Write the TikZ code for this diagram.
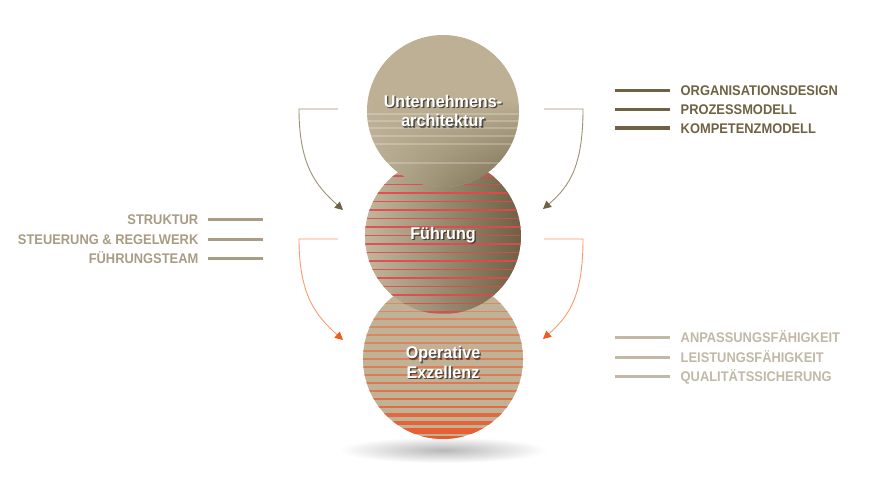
\documentclass[tikz,border=0pt]{standalone}
\usepackage{fontspec}
\setmainfont{Liberation Sans}
\newfontfamily\lblfont[FakeStretch=0.92]{Liberation Sans}
\newfontfamily\circfont[FakeStretch=0.95]{Liberation Sans}
\usetikzlibrary{arrows.meta,fadings}

\definecolor{circL}{HTML}{C2B69D}
\definecolor{circR}{HTML}{6C6144}
\definecolor{circTop}{HTML}{BDB095}
\definecolor{botFill}{HTML}{BEB297}
\definecolor{redS}{HTML}{E8464C}
\definecolor{orangeS}{HTML}{E85A2C}
\definecolor{peachS}{HTML}{DE9678}
\definecolor{labTop}{HTML}{6F6243}
\definecolor{labLeft}{HTML}{A89C83}
\definecolor{labBot}{HTML}{C1B8A6}
\definecolor{arrBrL}{HTML}{9C9075}
\definecolor{arrBrD}{HTML}{6E6245}
\definecolor{arrOrL}{HTML}{F79A72}
\definecolor{arrOrD}{HTML}{F05A1C}

\tikzfading[name=fadeupper, top color=transparent!100, bottom color=transparent!0]

\tikzset{
  ctext/.style={font=\circfont\bfseries\fontsize{17}{19.5}\selectfont, text=white, align=center, inner sep=0pt},
  cshadow/.style={ctext, text=black!85, opacity=0.55},
  lbl/.style={font=\lblfont\bfseries\fontsize{14}{16}\selectfont, inner sep=0pt, text height=10pt, text depth=0pt},
  lline/.style={line width=3pt},
  brarrow/.style={arrBrL, line width=0.9pt, -{Triangle[length=8pt,width=8pt,color=arrBrD]}},
  orarrow/.style={arrOrL, line width=0.9pt, -{Triangle[length=8pt,width=8pt,color=arrOrD]}},
}

\begin{document}
\begin{tikzpicture}[x=1pt,y=-1pt]
\useasboundingbox (0,0) rectangle (888,500);

% shadow under the stack
\shade[inner color=black!28, outer color=white] (443,450) ellipse [x radius=104pt, y radius=13pt];

% ---------- bottom circle ----------
\fill[botFill] (443,359) circle[radius=80pt];
\begin{scope}
  \clip (443,359) circle[radius=80pt];
  \foreach \k in {0,...,19} {
    \pgfmathsetmacro\yy{287+8*\k}
    \pgfmathsetmacro\lw{1+5*(\k/19)^4}
    \pgfmathtruncatemacro\op{25+75*(\k/19)^2}
    \draw[line width=\lw pt, orangeS!\op!peachS] (360,\yy) -- (530,\yy);
  }
\end{scope}

% ---------- middle circle ----------
\shade[left color=circL, right color=circR] (443,236) circle[radius=78pt];
\begin{scope}
  \clip (443,236) circle[radius=78pt];
  \foreach \k in {0,...,16} {
    \draw[redS, opacity=0.9, line width=1.5pt] (360,{176+8.5*\k}) -- (530,{176+8.5*\k});
  }
\end{scope}

% ---------- top circle ----------
\fill[circTop] (443,111) circle[radius=76pt];
\begin{scope}
  \clip (443,111) circle[radius=76pt];
  \shade[left color=circL, right color=circR, path fading=fadeupper] (360,100) rectangle (530,190);
  \foreach \yy in {114,121,128,136,144,163} {
    \draw[white, opacity=0.22, line width=1.2pt] (360,\yy) -- (530,\yy);
  }
  \draw[white, opacity=0.35, line width=1.2pt] (412,185) .. controls (443,189) .. (474,185);
\end{scope}

% ---------- circle texts ----------
\foreach \dx in {0.8,1.6} {
  \node[cshadow] at (443+\dx,111+\dx) {Unternehmens-\\architektur};
  \node[cshadow] at (443+\dx,235+\dx) {Führung};
  \node[cshadow] at (443+\dx,362.5+\dx) {Operative\\Exzellenz};
}
\node[ctext] (ua) at (443,111) {Unternehmens-\\architektur};
\node[ctext] (fu) at (443,235) {Führung};
\node[ctext] (oe) at (443,362.5) {Operative\\Exzellenz};

% ---------- arrows ----------
\coordinate (a1s) at (338,109); \coordinate (a1c) at (299,109); \coordinate (a1e) at (343,210);
\coordinate (a2s) at (544,109); \coordinate (a2c) at (583,109); \coordinate (a2e) at (543,209);
\coordinate (a3s) at (338,239); \coordinate (a3c) at (299,239); \coordinate (a3e) at (343,340);
\coordinate (a4s) at (544,239); \coordinate (a4c) at (583,239); \coordinate (a4e) at (543,339);

\draw[brarrow] (a1s) -- (a1c) .. controls (299,165) and (316,186) .. (a1e);
\draw[brarrow] (a2s) -- (a2c) .. controls (583,165) and (570,186) .. (a2e);
\draw[orarrow] (a3s) -- (a3c) .. controls (299,295) and (316,316) .. (a3e);
\draw[orarrow] (a4s) -- (a4c) .. controls (583,295) and (570,315) .. (a4e);

% ---------- right top labels ----------
\foreach \yy/\nm/\txt in {91/r1/ORGANISATIONSDESIGN, 109.5/r2/PROZESSMODELL, 128/r3/KOMPETENZMODELL} {
  \draw[lline, labTop] (615,\yy) -- (670,\yy);
  \node[lbl, text=labTop, anchor=west] (\nm) at (680.5,\yy) {\txt};
}

% ---------- left labels ----------
\foreach \yy/\nm/\txt in {219.5/l1/STRUKTUR, 239/l2/STEUERUNG \& REGELWERK, 258.5/l3/FÜHRUNGSTEAM} {
  \draw[lline, labLeft] (208,\yy) -- (263,\yy);
  \node[lbl, text=labLeft, anchor=east] (\nm) at (198.5,\yy) {\txt};
}

% ---------- right bottom labels ----------
\foreach \yy/\nm/\txt in {337.5/b1/ANPASSUNGSFÄHIGKEIT, 357/b2/LEISTUNGSFÄHIGKEIT, 376.5/b3/QUALITÄTSSICHERUNG} {
  \draw[lline, labBot] (615,\yy) -- (670,\yy);
  \node[lbl, text=labBot, anchor=west] (\nm) at (680.5,\yy) {\txt};
}
\end{tikzpicture}
\end{document}
